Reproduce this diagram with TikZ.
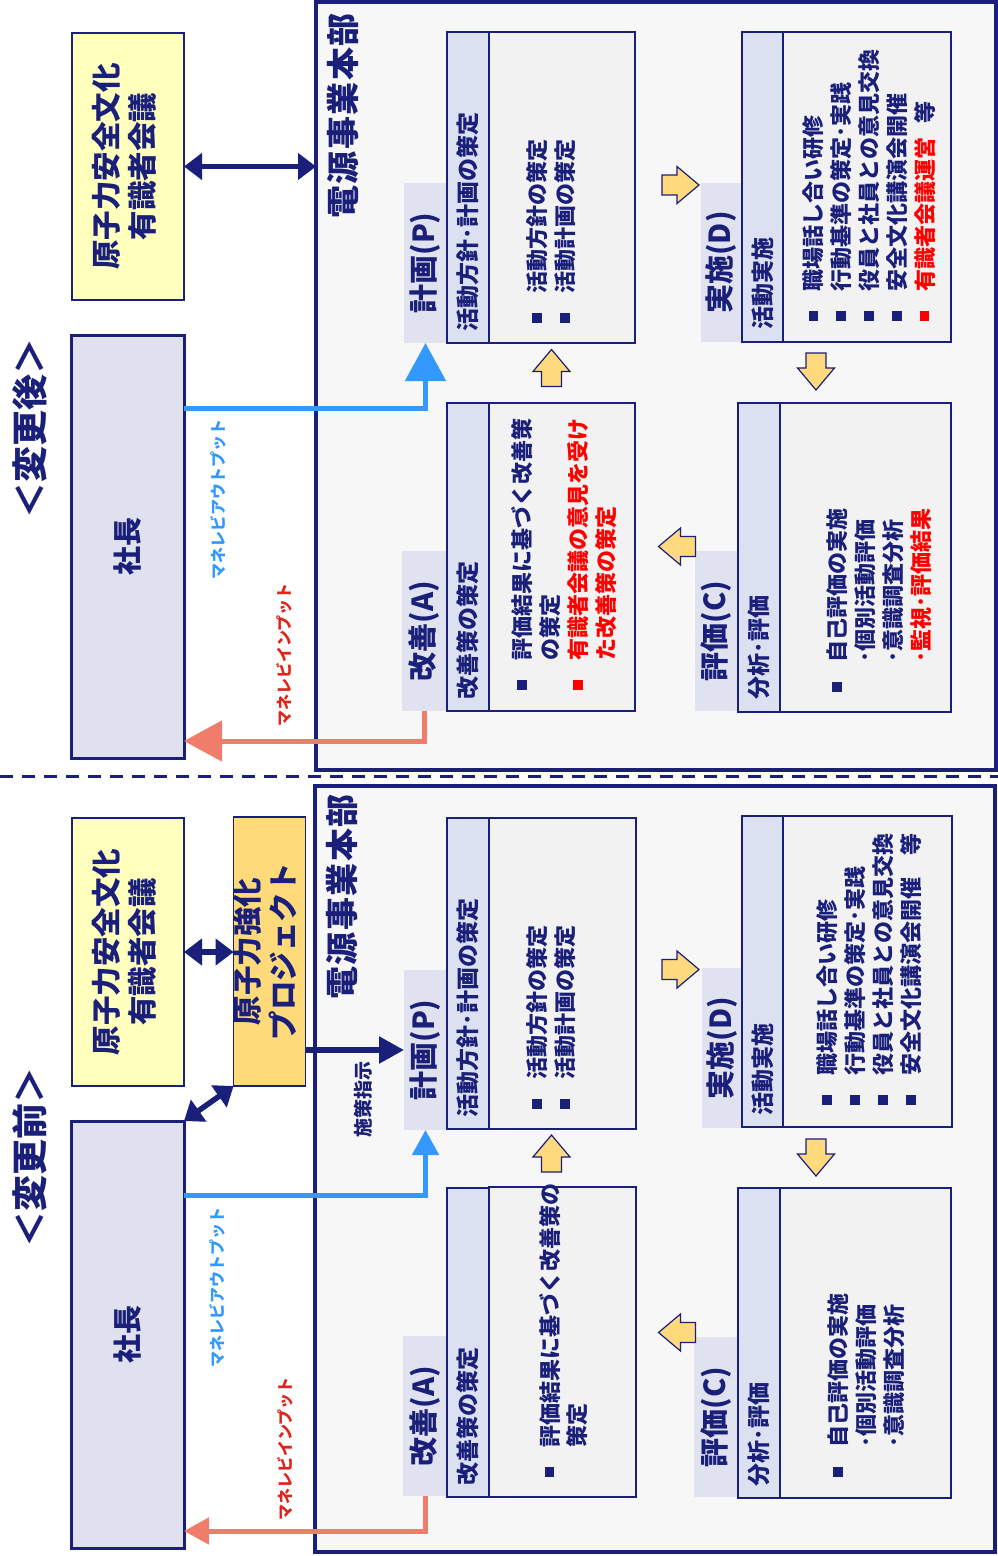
\documentclass[tikz,border=0pt]{standalone}
\usepackage{fontspec}
\usepackage{graphicx}
\setmainfont{Noto Sans CJK JP}
\usetikzlibrary{arrows.meta}
\definecolor{navy}{RGB}{26,31,122}
\definecolor{outerfill}{RGB}{247,247,247}
\definecolor{contfill}{RGB}{242,242,242}
\definecolor{hdrfill}{RGB}{219,225,240}
\definecolor{tabfill}{RGB}{224,227,239}
\definecolor{presfill}{RGB}{223,226,238}
\definecolor{yelfill}{RGB}{255,255,190}
\definecolor{orgfill}{RGB}{255,218,122}
\definecolor{arrfill}{RGB}{255,217,125}
\definecolor{outblue}{RGB}{51,153,255}
\definecolor{insalmon}{RGB}{240,124,108}
\definecolor{inred}{RGB}{225,35,25}
\definecolor{hilite}{RGB}{255,0,0}
\newcommand\rt[1]{\rotatebox{90}{#1}}
\newcommand\bul{\makebox[1.36em][l]{\raisebox{0.17em}{\rule{0.44em}{0.44em}}}}
\newcommand\rbul{\textcolor{hilite}{\bul}}
\newcommand\ind{\hspace*{1.36em}}
\newcommand\lns[1]{\rt{\begin{tabular}{@{}l@{}}#1\end{tabular}}}
\newcommand\ctr[1]{\rt{\begin{tabular}{@{}c@{}}#1\end{tabular}}}
\newcommand\bx[7]{\node[#1, minimum width={(#5)-(#3)}, minimum height={(#6)-(#4)}] (#2) at ({((#3)+(#5))/2},{((#4)+(#6))/2}) {#7};}
\tikzset{
  blockarrow/.pic={\draw[draw=navy, fill=arrfill, line width=1.2pt, line join=miter] (-18.5,-10) -- (-3.5,-10) -- (-3.5,-18.5) -- (18.5,0) -- (-3.5,18.5) -- (-3.5,10) -- (-18.5,10) -- cycle;}
}
\begin{document}
\begin{tikzpicture}[x=1pt,y=-1pt,
  every node/.style={inner sep=0pt, outer sep=0pt, text=navy},
  outerbox/.style={draw=navy, line width=4pt, fill=outerfill},
  yelbox/.style={draw=navy, line width=1.5pt, fill=yelfill, font=\bfseries\fontsize{29.5}{35.5}\selectfont},
  orgbox/.style={draw=navy, line width=1.5pt, fill=orgfill, font=\bfseries\fontsize{29.5}{35}\selectfont},
  presbox/.style={draw=navy, line width=3pt, fill=presfill, font=\bfseries\fontsize{29}{29}\selectfont},
  tabbox/.style={fill=tabfill, font=\bfseries\fontsize{29}{29}\selectfont},
  hdrbox/.style={draw=navy, line width=1.3pt, fill=hdrfill},
  contbox/.style={draw=navy, line width=1.3pt, fill=contfill},
  hdrtxt/.style={anchor=south, font=\bfseries\fontsize{23}{23}\selectfont},
  conttxt/.style={anchor=south, font=\bfseries\fontsize{22}{27.8}\selectfont},
  titletxt/.style={font=\bfseries\fontsize{36}{36}\selectfont},
  depttxt/.style={font=\bfseries\fontsize{33}{33}\selectfont},
  outlbl/.style={text=outblue, font=\bfseries\fontsize{16}{16}\selectfont},
  inlbl/.style={text=inred, font=\bfseries\fontsize{16}{16}\selectfont},
  ordlbl/.style={font=\bfseries\fontsize{19}{19}\selectfont},
  navylink/.style={draw=navy, line width=5.5pt},
  bluelink/.style={draw=outblue, line width=5pt},
  redlink/.style={draw=insalmon, line width=5pt},
  sep/.style={draw=navy, line width=3pt, dash pattern=on 13pt off 9pt},
  smalltip/.style={{Triangle[length=18pt,width=26pt]}-{Triangle[length=18pt,width=26pt]}},
  bigend/.style={-{Triangle[length=38pt,width=40pt]}},
  midend/.style={-{Triangle[length=25pt,width=26pt]}}
]
\useasboundingbox (0,0) rectangle (998,1556);

% ================= after change (top) =================
\bx{outerbox}{outer1}{316}{2}{996}{770}{}
\bx{yelbox}{yel1}{72}{33}{184}{300}{\ctr{原子力安全文化\\有識者会議}}
\bx{presbox}{pres1}{71}{335}{184}{758}{\rt{社長}}
\node[titletxt] (title1) at (30,428) {\rt{＜変更後＞}};
\node[depttxt] (dept1) at (343,116) {\rt{電\kern1.5pt 源\kern1.5pt 事\kern1.5pt 業\kern1.5pt 本\kern1.5pt 部}};

% P
\bx{tabbox}{pt1}{404}{183}{447}{343}{\rt{計画(P)}}
\bx{hdrbox}{ph1}{447}{32}{489}{343}{}
\bx{contbox}{pc1}{489}{32}{635}{343}{}
\node[hdrtxt] (ph1t) at (468,331) {\rt{活動方針･計画の策定}};
\node[conttxt] (pc1t) at (554,323) {\lns{\bul 活動方針の策定\\\bul 活動計画の策定}};
% D
\bx{tabbox}{dt1}{701}{183}{742}{342}{\rt{実施(D)}}
\bx{hdrbox}{dh1}{742}{32}{783}{342}{}
\bx{contbox}{dc1}{783}{32}{951}{342}{}
\node[hdrtxt] (dh1t) at (762.5,329) {\rt{活動実施}};
\node[conttxt] (dc1t) at (872,321) {\lns{\bul 職場話し合い研修\\\bul 行動基準の策定･実践\\\bul 役員と社員との意見交換\\\bul 安全文化講演会開催\\\rbul\textcolor{hilite}{有識者会議運営}\hspace{0.6em}等}};
% A
\bx{tabbox}{at1}{402}{551}{447}{711}{\rt{改善(A)}}
\bx{hdrbox}{ah1}{447}{403}{489}{711}{}
\bx{contbox}{ac1}{489}{403}{635}{711}{}
\node[hdrtxt] (ah1t) at (468,699) {\rt{改善策の策定}};
\node[conttxt] (ac1t) at (567,690) {\lns{\bul 評価結果に基づく改善策\\\ind の策定\\\rbul\textcolor{hilite}{有識者会議の意見を受け}\\\ind\textcolor{hilite}{た改善策の策定}}};
% C
\bx{tabbox}{ct1}{695}{551}{738}{711}{\rt{評価(C)}}
\bx{hdrbox}{ch1}{738}{403}{780}{712}{}
\bx{contbox}{cc1}{780}{403}{951}{712}{}
\node[hdrtxt] (ch1t) at (759,699) {\rt{分析･評価}};
\node[conttxt] (cc1t) at (882,692) {\lns{\bul 自己評価の実施\\\ind ･個別活動評価\\\ind ･意識調査分析\\\ind\textcolor{hilite}{･監視･評価結果}}};

\pic at (680.5,185) {blockarrow};
\pic[rotate=-90] at (816,371.5) {blockarrow};
\pic[rotate=180] at (677,546.5) {blockarrow};
\pic[rotate=90] at (551.5,368) {blockarrow};

\coordinate (bo1) at (0,408);
\coordinate (ri1) at (0,741);
\draw[navylink, smalltip] (yel1.east) -- (outer1.west |- yel1.east);
\draw[bluelink, bigend] (pres1.east |- bo1) -- (pt1.south |- bo1) -- (pt1.south);
\draw[redlink, bigend] (at1.south) -- (at1.south |- ri1) -- (pres1.east |- ri1);
\node[outlbl] (mo1) at (218,499) {\rt{マネレビアウトプット}};
\node[inlbl] (mi1) at (284,655) {\rt{マネレビインプット}};

% separator
\coordinate (sepL) at (0,776);
\coordinate (sepR) at (998,776);
\draw[sep] (sepL) -- (sepR);

% ================= before change (bottom) =================
\bx{outerbox}{outer2}{315}{786}{995}{1552}{}
\bx{yelbox}{yel2}{72}{818}{184}{1086}{\ctr{原子力安全文化\\有識者会議}}
\bx{orgbox}{org2}{234}{817}{305}{1086}{\ctr{原子力強化\\プロジェクト}}
\bx{presbox}{pres2}{71}{1121}{184}{1548}{\rt{社長}}
\node[titletxt] (title2) at (30,1157) {\rt{＜変更前＞}};
\node[depttxt] (dept2) at (342,897) {\rt{電\kern1.5pt 源\kern1.5pt 事\kern1.5pt 業\kern1.5pt 本\kern1.5pt 部}};

% P
\bx{tabbox}{pt2}{404}{970}{447}{1130}{\rt{計画(P)}}
\bx{hdrbox}{ph2}{447}{818}{489}{1129}{}
\bx{contbox}{pc2}{489}{818}{636}{1129}{}
\node[hdrtxt] (ph2t) at (468,1117) {\rt{活動方針･計画の策定}};
\node[conttxt] (pc2t) at (554,1109) {\lns{\bul 活動方針の策定\\\bul 活動計画の策定}};
% D
\bx{tabbox}{dt2}{702}{968}{742}{1128}{\rt{実施(D)}}
\bx{hdrbox}{dh2}{742}{816}{783}{1127}{}
\bx{contbox}{dc2}{783}{816}{952}{1127}{}
\node[hdrtxt] (dh2t) at (762.5,1115) {\rt{活動実施}};
\node[conttxt] (dc2t) at (872,1105) {\lns{\bul 職場話し合い研修\\\bul 行動基準の策定･実践\\\bul 役員と社員との意見交換\\\bul 安全文化講演会開催　等}};
% A
\bx{tabbox}{at2}{403}{1336}{447}{1496}{\rt{改善(A)}}
\bx{hdrbox}{ah2}{447}{1188}{489}{1497}{}
\bx{contbox}{ac2}{489}{1187}{636}{1497}{}
\node[hdrtxt] (ah2t) at (468,1485) {\rt{改善策の策定}};
\node[conttxt] (ac2t) at (566.5,1477) {\lns{\bul 評価結果に基づく改善策の\\\ind 策定}};
% C
\bx{tabbox}{ct2}{694}{1337}{738}{1497}{\rt{評価(C)}}
\bx{hdrbox}{ch2}{738}{1188}{780}{1498}{}
\bx{contbox}{cc2}{780}{1188}{951}{1498}{}
\node[hdrtxt] (ch2t) at (759,1486) {\rt{分析･評価}};
\node[conttxt] (cc2t) at (869,1477) {\lns{\bul 自己評価の実施\\\ind ･個別活動評価\\\ind ･意識調査分析}};

\pic at (680.5,969.5) {blockarrow};
\pic[rotate=-90] at (816,1157.5) {blockarrow};
\pic[rotate=180] at (677,1332.5) {blockarrow};
\pic[rotate=90] at (551.5,1153.5) {blockarrow};

\coordinate (bo2) at (0,1195);
\coordinate (ri2) at (0,1531);
\draw[navylink, smalltip] (yel2.east) -- (org2.west |- yel2.east);
\draw[navylink, smalltip] (pres2.north east) -- (org2.south west);
\draw[navylink, midend] (org2.east |- pt2.west) -- (pt2.west);
\draw[bluelink, midend] (pres2.east |- bo2) -- (pt2.south |- bo2) -- (pt2.south);
\draw[redlink, midend] (at2.south) -- (at2.south |- ri2) -- (pres2.east |- ri2);
\node[outlbl] (mo2) at (217,1287) {\rt{マネレビアウトプット}};
\node[inlbl] (mi2) at (285,1449) {\rt{マネレビインプット}};
\node[ordlbl] (shisaku) at (363,1099) {\rt{施策指示}};
\end{tikzpicture}
\end{document}
